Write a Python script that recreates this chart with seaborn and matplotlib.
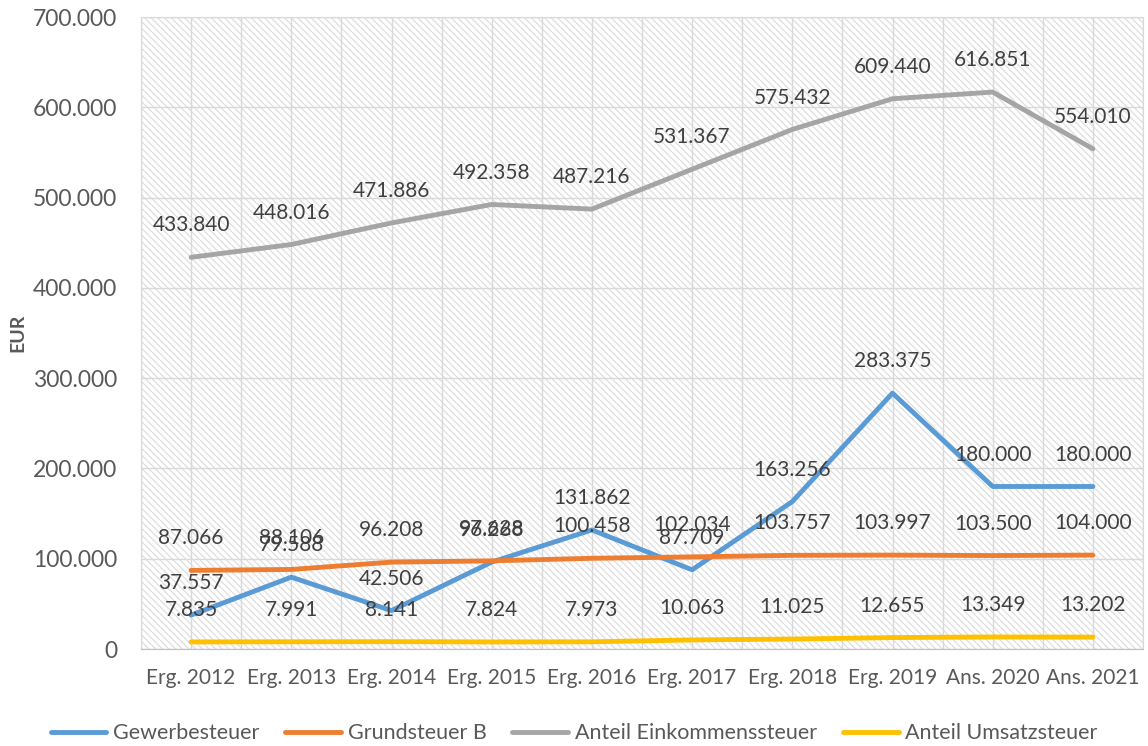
import numpy as np
import pandas as pd
import matplotlib
matplotlib.use("Agg")
import matplotlib.pyplot as plt
import matplotlib.ticker as mticker
from matplotlib.patches import Rectangle
import seaborn as sns

years = ["Erg. 2012", "Erg. 2013", "Erg. 2014", "Erg. 2015", "Erg. 2016",
         "Erg. 2017", "Erg. 2018", "Erg. 2019", "Ans. 2020", "Ans. 2021"]
gewerbe = [37557, 79588, 42506, 96268, 131862, 87709, 163256, 283375, 180000, 180000]
grund_b = [87066, 88106, 96208, 97628, 100458, 102034, 103757, 103997, 103500, 104000]
eink = [433840, 448016, 471886, 492358, 487216, 531367, 575432, 609440, 616851, 554010]
umsatz = [7835, 7991, 8141, 7824, 7973, 10063, 11025, 12655, 13349, 13202]

names = ["Gewerbesteuer", "Grundsteuer B", "Anteil Einkommenssteuer", "Anteil Umsatzsteuer"]
colors = ["#5B9BD5", "#ED7D31", "#A5A5A5", "#FFC000"]

# long format fuer seaborn
df = pd.DataFrame({
    "jahr": years * 4,
    "wert": gewerbe + grund_b + eink + umsatz,
    "art": [n for n in names for _ in years],
})

sns.set_style("white")
plt.rcParams["font.family"] = ["Lato", "DejaVu Sans"]
plt.rcParams["hatch.linewidth"] = 0.9

fig, ax = plt.subplots(figsize=(11.48, 7.46), dpi=100)
fig.subplots_adjust(left=141/1148, right=1143/1148, top=1-17/746, bottom=1-649/746)

# schraffierter Hintergrund
ax.add_patch(Rectangle((0, 0), 1, 1, transform=ax.transAxes, facecolor="none",
                       edgecolor="#dedede", hatch="\\\\\\\\\\", linewidth=0.8, zorder=0))

sns.lineplot(data=df, x="jahr", y="wert", hue="art", palette=colors,
             linewidth=3.5, ax=ax, sort=False, zorder=3)

fs = 15
ax.set_xlim(-0.5, 9.5)
ax.set_ylim(0, 700000)
ax.yaxis.set_major_locator(mticker.MultipleLocator(100000))
ax.yaxis.set_major_formatter(mticker.FuncFormatter(lambda v, p: "0" if v == 0 else f"{v:,.0f}".replace(",", ".")))
ax.set_xticks(range(len(years)))
ax.set_xticklabels(years)
ax.set_xticks(np.arange(-0.5, 10, 1), minor=True)
ax.grid(True, which="major", color="#d9d9d9", linewidth=1, zorder=1)
ax.grid(True, which="minor", axis="x", color="#d9d9d9", linewidth=1, zorder=1)
ax.tick_params(axis="both", which="both", length=0, labelsize=fs, labelcolor="#595959")
ax.tick_params(axis="y", labelsize=16.5, pad=17)
ax.tick_params(axis="x", pad=14)

for side in ["top", "left", "right"]:
    ax.spines[side].set_color("#d9d9d9")
ax.spines["bottom"].set_color("#bfbfbf")

ax.set_xlabel("")
ax.set_ylabel("EUR", fontsize=fs - 1, fontweight="bold", color="#595959", labelpad=5)

# Datenbeschriftungen
for vals in [gewerbe, grund_b, eink, umsatz]:
    for i, v in enumerate(vals):
        ax.annotate(f"{v:,.0f}".replace(",", "."), (i, v), xytext=(0, 23),
                    textcoords="offset points", ha="center", va="center",
                    fontsize=fs, color="#404040", zorder=4)

ax.legend(loc="center", bbox_to_anchor=((574 - 141) / 1002, -0.133), ncol=4, frameon=False,
          fontsize=15.5, handlelength=2.6, columnspacing=1.2, handletextpad=0.3,
          labelcolor="#595959")

fig.savefig("out.png", dpi=100)
